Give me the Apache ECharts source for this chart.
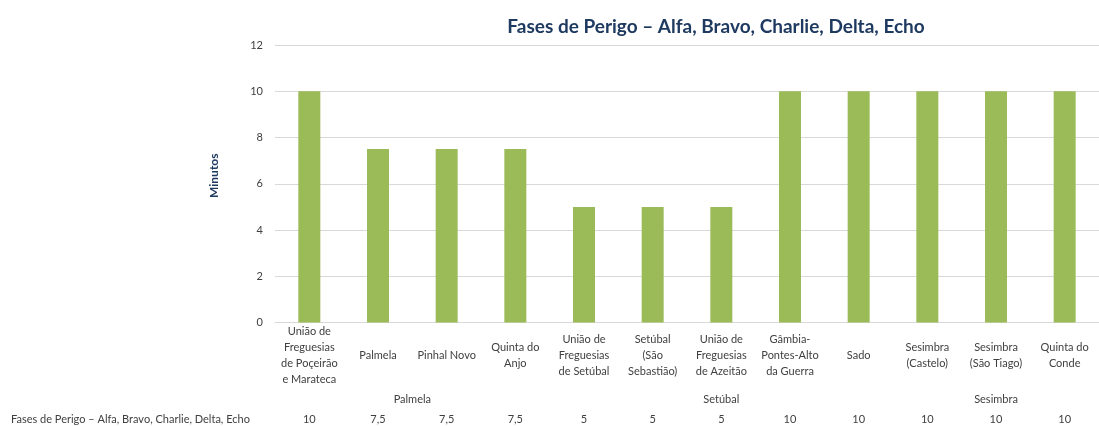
<!DOCTYPE html>
<html>
<head>
<meta charset="utf-8">
<script src="https://cdn.jsdelivr.net/npm/echarts@6/dist/echarts.min.js"></script>
<style>
  html, body { margin: 0; padding: 0; background: #fff; }
  #chart { width: 1099px; height: 426px; }
</style>
</head>
<body>
<div id="chart"></div>
<script>
// freguesias (categorias do eixo)
const categories = [
  'União de\nFreguesias\nde Poçeirão\ne Marateca',
  'Palmela',
  'Pinhal Novo',
  'Quinta do\nAnjo',
  'União de\nFreguesias\nde Setúbal',
  'Setúbal\n(São\nSebastião)',
  'União de\nFreguesias\nde Azeitão',
  'Gâmbia-\nPontes-Alto\nda Guerra',
  'Sado',
  'Sesimbra\n(Castelo)',
  'Sesimbra\n(São Tiago)',
  'Quinta do\nConde'
]
// concelhos e nº de freguesias em cada um
const groupNames = ['Palmela', 'Setúbal', 'Sesimbra']
const groupSizes = [4, 5, 3]
// minutos
const values = [10, 7.5, 7.5, 7.5, 5, 5, 5, 10, 10, 10, 10, 10]
const seriesName = 'Fases de Perigo – Alfa, Bravo, Charlie, Delta, Echo'
const yTicks = { min: 0, max: 12, interval: 2 }

const font = 'Lato, "Open Sans", sans-serif'
const textColor = '#404040'
const navy = '#1F3A60'

// centro de cada grupo, em unidades de categoria
const groupCenters = {}
let start = 0
groupSizes.forEach((n, i) => {
  groupCenters[(start + n / 2).toFixed(1)] = groupNames[i]
  start += n
})

const chart = echarts.init(document.getElementById('chart'))

chart.setOption({
  animation: false,
  textStyle: { fontFamily: font },
  title: {
    text: seriesName,
    left: 711,
    top: 12,
    textAlign: 'center',
    textStyle: { fontFamily: font, fontSize: 19, fontWeight: 'bold', color: navy }
  },
  legend: {
    left: 6,
    top: 413,
    padding: 0,
    icon: 'none',
    itemWidth: 0,
    itemHeight: 12,
    itemGap: 0,
    selectedMode: false,
    textStyle: { fontFamily: font, fontSize: 11, color: textColor, padding: 0 },
    data: [seriesName]
  },
  grid: { left: 275, top: 45, width: 826, height: 277.5 },
  xAxis: [
    {
      type: 'category',
      data: categories,
      axisLine: { lineStyle: { color: '#d9d9d9' } },
      axisTick: { show: false },
      axisLabel: {
        interval: 0,
        margin: 33,
        verticalAlign: 'middle',
        fontSize: 11,
        lineHeight: 16,
        color: textColor
      }
    },
    {
      // nível dos concelhos
      type: 'value',
      position: 'bottom',
      min: 0,
      max: categories.length,
      interval: 0.5,
      axisLine: { show: false },
      axisTick: { show: false },
      splitLine: { show: false },
      axisLabel: {
        margin: 77,
        verticalAlign: 'middle',
        fontSize: 11,
        color: textColor,
        showMinLabel: false,
        showMaxLabel: false,
        formatter: v => groupCenters[v.toFixed(1)] || ''
      }
    },
    {
      // tabela de dados
      type: 'category',
      position: 'bottom',
      data: categories,
      axisLine: { show: false },
      axisTick: { show: false },
      axisLabel: {
        interval: 0,
        margin: 97,
        verticalAlign: 'middle',
        fontSize: 11,
        color: textColor,
        formatter: (v, i) => String(values[i]).replace('.', ',')
      }
    }
  ],
  yAxis: {
    type: 'value',
    min: yTicks.min,
    max: yTicks.max,
    interval: yTicks.interval,
    name: 'Minutos',
    nameLocation: 'middle',
    nameGap: 55,
    nameTextStyle: { fontFamily: font, fontSize: 12, fontWeight: 'bold', color: navy, padding: [0, 0, 0, 16] },
    axisLine: { show: false },
    axisTick: { show: false },
    axisLabel: { margin: 12, fontSize: 11, color: textColor },
    splitLine: { lineStyle: { color: '#d9d9d9', width: 1 } }
  },
  series: [
    {
      name: seriesName,
      type: 'bar',
      xAxisIndex: 0,
      data: values,
      barWidth: 22,
      itemStyle: { color: '#9BBB59' }
    }
  ]
})
</script>
</body>
</html>
